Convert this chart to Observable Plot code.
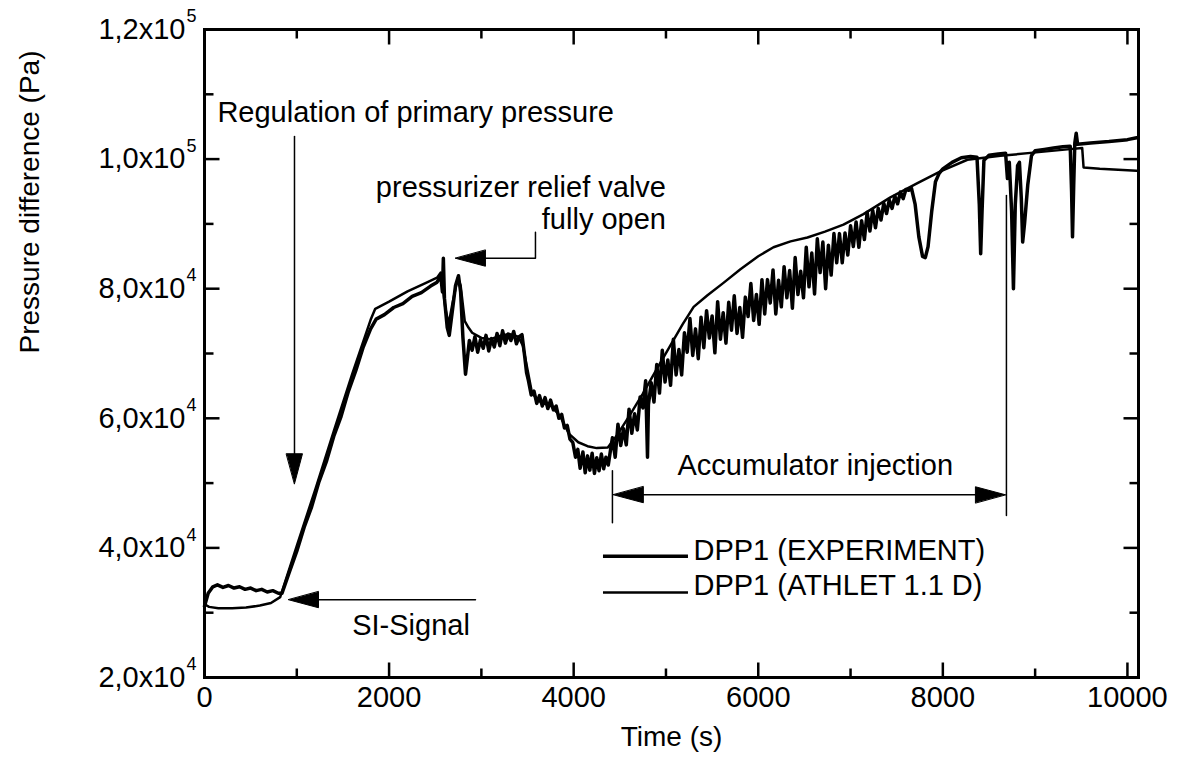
<!DOCTYPE html>
<html><head><meta charset="utf-8">
<script src="https://cdn.jsdelivr.net/npm/d3@7"></script>
<script src="https://cdn.jsdelivr.net/npm/@observablehq/plot@0.6"></script>
<style>body{margin:0;background:#fff;} #chart{width:1181px;height:767px;}</style>
</head><body><div id="chart"></div>
<script>
// ---------- data ----------
const xTicks = [0, 2000, 4000, 6000, 8000, 10000];
const xMinor = [1000, 3000, 5000, 7000, 9000];
const yTicks = [20000, 40000, 60000, 80000, 100000, 120000];
const yMinor = [30000, 50000, 70000, 90000, 110000];
const yTickBase = ["2,0x10", "4,0x10", "6,0x10", "8,0x10", "1,0x10", "1,2x10"];
const yTickExp = ["4", "4", "4", "4", "5", "5"];

const seriesNames = ["DPP1 (EXPERIMENT)", "DPP1 (ATHLET 1.1 D)"];

// DPP1 experiment (time s, pressure difference Pa)
const experiment = [
[0,31000],[40,33000],[90,34000],[140,34300],[200,33900],[260,34200],[320,33800],[380,34000],[440,33600],[500,33800],[560,33400],[620,33600],[680,33200],[740,33400],[800,33000],[840,33000],
[920,36300],[1000,39500],[1080,43200],[1160,46300],[1240,50200],[1320,53300],[1400,57200],[1480,60300],[1560,64200],[1640,67400],[1720,71000],[1800,73800],[1860,75300],
[1950,76000],[2050,77100],[2150,77700],[2250,78800],[2350,79400],[2450,80400],[2520,81000],
[2560,82000],[2578,79500],[2588,84700],[2600,78500],[2630,74000],[2652,72800],[2685,76500],[2720,80500],[2752,82000],[2775,79500],[2800,72500],[2828,66800],[2850,69500],[2870,72000],[2900,70500],
[2930,72600],[2960,70200],[2990,72100],[3020,70800],[3050,72800],[3080,70400],[3110,72300],[3140,71000],[3170,73100],[3200,71200],[3230,73500],[3260,71600],[3290,73000],[3320,72000],[3350,73400],[3380,71500],[3410,72600],[3440,72900],
[3470,69500],[3490,67000],[3510,65800],[3540,63600],[3570,64200],[3600,62300],[3630,63500],[3660,61900],[3690,63200],[3720,61500],[3750,62800],[3780,61300],[3810,61900],[3840,60000],[3870,60600],[3900,58500],[3930,58900],[3960,56800],[3990,56300],
[4020,54000],[4045,55200],[4070,52300],[4100,54800],[4125,51600],[4150,54200],[4175,52000],[4200,54600],[4225,51500],[4250,53900],[4275,51900],[4300,54500],[4325,52200],[4350,54000],[4375,52800],[4400,55200],
[4420,57000],[4450,54000],[4480,59100],[4510,55800],[4540,58400],[4570,55900],[4600,61400],[4630,57700],[4660,60700],[4690,58200],[4720,63300],[4750,61600],[4780,65800],[4800,54000],[4810,62100],[4840,65500],
[4870,62500],[4900,68300],[4930,63900],[4960,70500],[4990,65600],[5020,69000],[5050,65100],[5080,72200],[5110,66700],[5140,70600],[5170,66700],[5200,73200],[5230,70200],[5260,75400],[5290,69700],[5320,73800],
[5350,69200],[5380,75600],[5410,70900],[5440,76600],[5470,72400],[5500,75800],[5530,70100],[5560,78000],[5590,72200],[5620,76300],[5650,71600],[5680,77900],[5710,73600],[5740,78900],[5770,73100],[5800,77100],
[5830,72500],[5860,78700],[5890,75700],[5920,80800],[5950,75100],[5980,79100],[6010,74500],[6040,81400],[6070,76100],[6100,81400],[6130,77800],[6160,82900],[6190,76100],[6220,81300],[6250,77200],[6280,83400],
[6310,78600],[6340,82800],[6370,77000],[6400,84800],[6430,79100],[6460,82700],[6490,78600],[6520,86400],[6550,80300],[6580,85500],[6610,79200],[6640,87700],[6670,82500],[6700,87200],[6730,80000],[6760,86700],
[6790,82100],[6820,88500],[6850,84000],[6880,88500],[6910,84000],[6940,88600],[6970,85200],[7000,89700],[7030,86500],[7060,90300],[7090,86400],[7120,90500],[7150,87600],[7180,91800],[7210,88900],[7240,92100],
[7270,89400],[7300,92400],[7330,90600],[7360,93200],[7390,91600],[7420,93700],[7450,92400],[7480,94300],[7510,93100],[7540,94900],[7570,93900],[7600,95300],[7630,95200],
[7660,95500],[7700,93000],[7740,88000],[7780,85000],[7810,84800],[7840,86500],[7880,92000],[7920,96500],[7960,97800],[8000,98500],[8100,99500],[8200,100200],[8300,100400],[8370,100300],
[8395,93000],[8410,85400],[8425,92000],[8445,99800],[8500,100600],[8600,100800],[8680,100900],[8700,97000],[8720,99500],[8745,92000],[8765,80000],[8785,93000],[8810,99000],[8830,99500],[8850,94000],[8865,87200],[8885,90000],[8920,96000],[8960,100500],
[9000,101300],[9100,101500],[9200,101700],[9300,101900],[9380,102000],[9395,95000],[9405,88000],[9418,96000],[9430,102500],[9445,104000],[9460,102300],[9600,102500],[9800,102700],[10000,103000],[10100,103300]
];

// DPP1 ATHLET 1.1 D calculation
const athlet = [
[0,31300],[50,30900],[150,30700],[300,30700],[450,30800],[600,31100],[720,31500],[820,32400],
[1000,40300],[1200,49000],[1400,58000],[1600,66800],[1800,75200],[1850,76900],[2000,78000],[2200,79600],[2400,80900],[2520,81700],
[2560,82500],[2610,77000],[2645,74500],[2690,78000],[2745,81700],[2775,80500],[2820,75000],[2860,74000],[2900,73200],
[3000,72400],[3100,72200],[3200,72700],[3300,73000],[3400,72600],[3450,71200],[3500,67500],[3550,63800],[3650,62400],[3750,62000],[3850,60400],[3950,57600],[4050,56300],[4150,55700],[4250,55400],[4370,55500],
[4470,57400],[4600,60300],[4750,63800],[4900,67600],[5050,71300],[5180,74500],[5300,77200],[5450,79000],[5623,80900],[5807,83000],[6000,85000],[6165,86400],[6350,87300],[6533,87900],[6723,88800],[6923,89900],
[7140,91500],[7432,94100],[7725,96300],[7974,98100],[8266,99900],[8624,100500],[8982,101000],[9350,101500],[9510,101700],[9525,98700],[9700,98500],[10100,98200]
];

// annotation texts (time, pressure, label)
const textsStart = [
  [140, 107200, "Regulation of primary pressure"],
  [1600, 28000, "SI-Signal"],
  [5124, 52700, "Accumulator injection"]
];
const textsEnd = [
  [5000, 93300, "pressurizer relief valve\nfully open"]
];
// annotation leader lines (id, time, pressure)
const leaderLines = [
  ["reg", 975, 103500], ["reg", 975, 52000],
  ["valve", 3586, 88700], ["valve", 3586, 84700], ["valve", 2900, 84700],
  ["si", 2936, 32000], ["si", 1150, 32000],
  ["acc", 4500, 48200], ["acc", 8600, 48200],
  ["accL", 4420, 51900], ["accL", 4420, 43900],
  ["accR", 8689, 94400], ["accR", 8689, 45000]
];
// arrowhead tips (time, pressure, direction)
const arrowHeads = [
  [975, 49900, "down"],
  [2719, 84700, "left"],
  [910, 32000, "left"],
  [4430, 48200, "left"],
  [8678, 48200, "right"]
];
// legend samples
const legendLines = [
  [4323, 5244, 38700, 0],
  [4323, 5244, 33100, 1]
];
const legendText = [[5298, 39600, 0], [5298, 34200, 1]];

// ---------- chart ----------
const font = "'Liberation Sans', Arial, Helvetica, sans-serif";
const expData = experiment.map(([t, v]) => ({t, v}));
const athData = athlet.map(([t, v]) => ({t, v}));
const leaders = leaderLines.map(([id, t, v]) => ({id, t, v}));
const rot = {up: 0, right: 90, down: 180, left: -90};
const tickShape = {draw(c, l) { c.moveTo(0, 0); c.lineTo(0, -l); }};
const headShape = {draw(c, l) { c.moveTo(0, 0); c.lineTo(-8, l); c.lineTo(8, l); c.closePath(); }};

function ticks(data, anchor, channel, len, rotate) {
  return Plot.vector(data, {[channel]: d => d, frameAnchor: anchor, length: len, rotate, anchor: "start",
    shape: tickShape, stroke: "black", strokeWidth: 2.5, strokeLinecap: "butt"});
}

const chart = Plot.plot({
  width: 1181, height: 767,
  marginLeft: 204, marginRight: 43, marginTop: 29, marginBottom: 90,
  style: {fontFamily: font, fontSize: "29px", color: "black", background: "white"},
  x: {domain: [0, 10120]},
  y: {domain: [20000, 120000]},
  marks: [
    Plot.line(athData, {x: "t", y: "v", stroke: "black", strokeWidth: 2.5, strokeLinejoin: "round"}),
    Plot.line(expData, {x: "t", y: "v", stroke: "black", strokeWidth: 3.5, strokeLinejoin: "round"}),
    Plot.line(leaders, {x: "t", y: "v", z: "id", stroke: "black", strokeWidth: 1.5}),
    Plot.vector(arrowHeads, {x: d => d[0], y: d => d[1], rotate: d => rot[d[2]], length: 30, anchor: "start",
      shape: headShape, fill: "black", stroke: "black", strokeWidth: 1}),
    Plot.text(textsStart, {x: d => d[0], y: d => d[1], text: d => d[2], textAnchor: "start", fontSize: 29}),
    Plot.text(textsEnd, {x: d => d[0], y: d => d[1], text: d => d[2], textAnchor: "end", fontSize: 29, lineHeight: 1.13}),
    Plot.ruleY(legendLines, {x1: d => d[0], x2: d => d[1], y: d => d[2], stroke: "black",
      strokeWidth: d => d[3] === 0 ? 3.5 : 2.5}),
    Plot.text(legendText, {x: d => d[0], y: d => d[1], text: d => seriesNames[d[2]], textAnchor: "start", fontSize: 29}),
    // frame and inward ticks on all sides
    Plot.frame({stroke: "black", strokeWidth: 3}),
    ticks(xTicks, "bottom", "x", 15, 0),
    ticks(xMinor, "bottom", "x", 9, 0),
    ticks(xTicks, "top", "x", 15, 180),
    ticks(xMinor, "top", "x", 9, 180),
    ticks(yTicks, "left", "y", 15, 90),
    ticks(yMinor, "left", "y", 9, 90),
    ticks(yTicks, "right", "y", 15, -90),
    ticks(yMinor, "right", "y", 9, -90),
    Plot.axisX(xTicks, {tickSize: 0, tickPadding: 9, fontSize: 29, label: null, tickFormat: d => String(d)}),
    Plot.axisY(yTicks, {tickSize: 0, tickPadding: 19, fontSize: 29, label: null,
      tickFormat: d => yTickBase[yTicks.indexOf(d)]}),
    Plot.text(yTicks, {y: d => d, frameAnchor: "left", text: d => yTickExp[yTicks.indexOf(d)],
      dx: -18, dy: -13, textAnchor: "start", fontSize: 18}),
    Plot.text(["Time (s)"], {frameAnchor: "bottom", dy: 68, text: d => d, fontSize: 28}),
    Plot.text(["Pressure difference (Pa)"], {frameAnchor: "left", dx: -174, rotate: -90, text: d => d, fontSize: 28})
  ]
});
document.getElementById("chart").appendChild(chart);
</script>
</body></html>
